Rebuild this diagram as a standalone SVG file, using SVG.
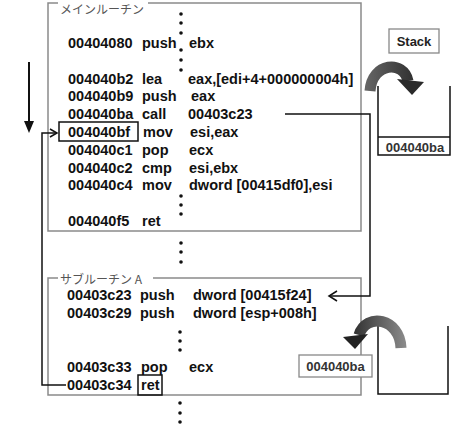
<svg xmlns="http://www.w3.org/2000/svg" width="469" height="441" viewBox="0 0 469 441">
<style>
.code{font-family:"Liberation Sans",Arial,sans-serif;font-weight:bold;font-size:14.5px;fill:#111}
.small{font-family:"Liberation Sans",Arial,sans-serif;font-weight:bold;font-size:13px;fill:#333}
.lbl{font-family:"Noto Sans CJK JP","Liberation Sans",sans-serif;font-size:12px;fill:#555}
.frame{fill:none;stroke:#8a8a8a;stroke-width:1.5}
.conn{fill:none;stroke:#111;stroke-width:1.5}
.box{fill:#fff;stroke:#888;stroke-width:1.3}
.stack{fill:none;stroke:#111;stroke-width:1.5}
.dot{fill:#111}
</style>
<defs>
<linearGradient id="gTop" gradientUnits="userSpaceOnUse" x1="365" y1="90" x2="420" y2="90">
<stop offset="0" stop-color="#666"/><stop offset="1" stop-color="#2a2a2a"/>
</linearGradient>
<linearGradient id="gBot" gradientUnits="userSpaceOnUse" x1="405" y1="340" x2="345" y2="340">
<stop offset="0" stop-color="#8a8a8a"/><stop offset="1" stop-color="#222"/>
</linearGradient>
</defs>
<rect width="469" height="441" fill="#fff"/>

<g id="main-routine">
<path class="frame" d="M58,3 H48 V231 H361 V3 H148"/>
<text class="lbl" x="60" y="13.5">メインルーチン</text>
<text class="code" x="68" y="48">00404080</text><text class="code" x="142" y="48">push</text><text class="code" x="189" y="48">ebx</text>
<text class="code" x="68" y="83.5">004040b2</text><text class="code" x="142" y="83.5">lea</text><text class="code" x="188" y="83.5">eax,[edi+4+000000004h]</text>
<text class="code" x="68" y="101">004040b9</text><text class="code" x="142" y="101">push</text><text class="code" x="191" y="101">eax</text>
<text class="code" x="68" y="118.5">004040ba</text><text class="code" x="142" y="118.5">call</text><text class="code" x="188" y="118.5">00403c23</text>
<rect x="59" y="122" width="79" height="19" fill="none" stroke="#111" stroke-width="1.5"/>
<text class="code" x="68" y="137">004040bf</text><text class="code" x="143" y="137">mov</text><text class="code" x="190" y="137">esi,eax</text>
<text class="code" x="68" y="155">004040c1</text><text class="code" x="142" y="155">pop</text><text class="code" x="189" y="155">ecx</text>
<text class="code" x="68" y="172.5">004040c2</text><text class="code" x="142" y="172.5">cmp</text><text class="code" x="189" y="172.5">esi,ebx</text>
<text class="code" x="68" y="190">004040c4</text><text class="code" x="142" y="190">mov</text><text class="code" x="189" y="190">dword [00415df0],esi</text>
<text class="code" x="68" y="226">004040f5</text><text class="code" x="142" y="226">ret</text>
</g>

<g id="sub-routine">
<path class="frame" d="M58,278 H48 V395 H361 V278 H153"/>
<text class="lbl" x="60" y="284">サブルーチン A</text>
<text class="code" x="67" y="300">00403c23</text><text class="code" x="140" y="300">push</text><text class="code" x="193" y="300">dword [00415f24]</text>
<text class="code" x="67" y="318">00403c29</text><text class="code" x="140" y="318">push</text><text class="code" x="193" y="318">dword [esp+008h]</text>
<text class="code" x="67" y="372">00403c33</text><text class="code" x="141" y="372">pop</text><text class="code" x="189" y="372">ecx</text>
<text class="code" x="67" y="390">00403c34</text><text class="code" x="141" y="390">ret</text>
<rect x="138" y="375" width="24" height="20" fill="none" stroke="#111" stroke-width="1.5"/>
</g>

<g id="dots">
<circle class="dot" cx="181" cy="14" r="1.8"/><circle class="dot" cx="181" cy="23" r="1.8"/><circle class="dot" cx="181" cy="33" r="1.8"/>
<circle class="dot" cx="181" cy="50" r="1.8"/><circle class="dot" cx="181" cy="60" r="1.8"/><circle class="dot" cx="181" cy="70" r="1.8"/>
<circle class="dot" cx="181" cy="196" r="1.8"/><circle class="dot" cx="181" cy="205" r="1.8"/><circle class="dot" cx="181" cy="214" r="1.8"/>
<circle class="dot" cx="181" cy="243" r="1.8"/><circle class="dot" cx="181" cy="252" r="1.8"/><circle class="dot" cx="181" cy="262" r="1.8"/>
<circle class="dot" cx="180" cy="332" r="1.8"/><circle class="dot" cx="180" cy="341" r="1.8"/><circle class="dot" cx="180" cy="350" r="1.8"/>
<circle class="dot" cx="180" cy="403" r="1.8"/><circle class="dot" cx="180" cy="413" r="1.8"/><circle class="dot" cx="180" cy="422" r="1.8"/>
</g>

<g id="stack-top">
<rect class="box" x="389" y="29" width="50" height="24"/>
<text x="414" y="46" text-anchor="middle" style="font-family:'Liberation Sans',Arial,sans-serif;font-weight:bold;font-size:13px;fill:#222">Stack</text>
<path class="stack" d="M378,86 V155 H450 V86"/>
<line class="stack" x1="378" y1="137" x2="450" y2="137"/>
<text class="small" x="415" y="152" text-anchor="middle">004040ba</text>
<path d="M370,91 C372,62 404,60 408,81" fill="none" stroke="url(#gTop)" stroke-width="11"/>
<polygon points="397,79 424,82 412,95" fill="#2a2a2a"/>
</g>

<g id="stack-bottom">
<rect class="box" x="299" y="355" width="73" height="22"/>
<text class="small" x="335.5" y="370.5" text-anchor="middle">004040ba</text>
<path class="stack" d="M378,326 V394 H448 V326"/>
<path d="M401,348 C400,318 366,312 359,335" fill="none" stroke="url(#gBot)" stroke-width="11"/>
<polygon points="343,337 368,334 355,349" fill="#222"/>
</g>

<g id="connectors">
<line x1="29" y1="62" x2="29" y2="122" stroke="#111" stroke-width="2"/>
<polygon points="24,121 34,121 29,133" fill="#111"/>
<polyline class="conn" points="285,114 370,114 370,296 329,296"/>
<polyline class="conn" points="337,291 329,296 337,301"/>
<polyline class="conn" points="66,385 42,385 42,133 57,133"/>
<polyline class="conn" points="50,129 57,133 50,137"/>
</g>
</svg>
